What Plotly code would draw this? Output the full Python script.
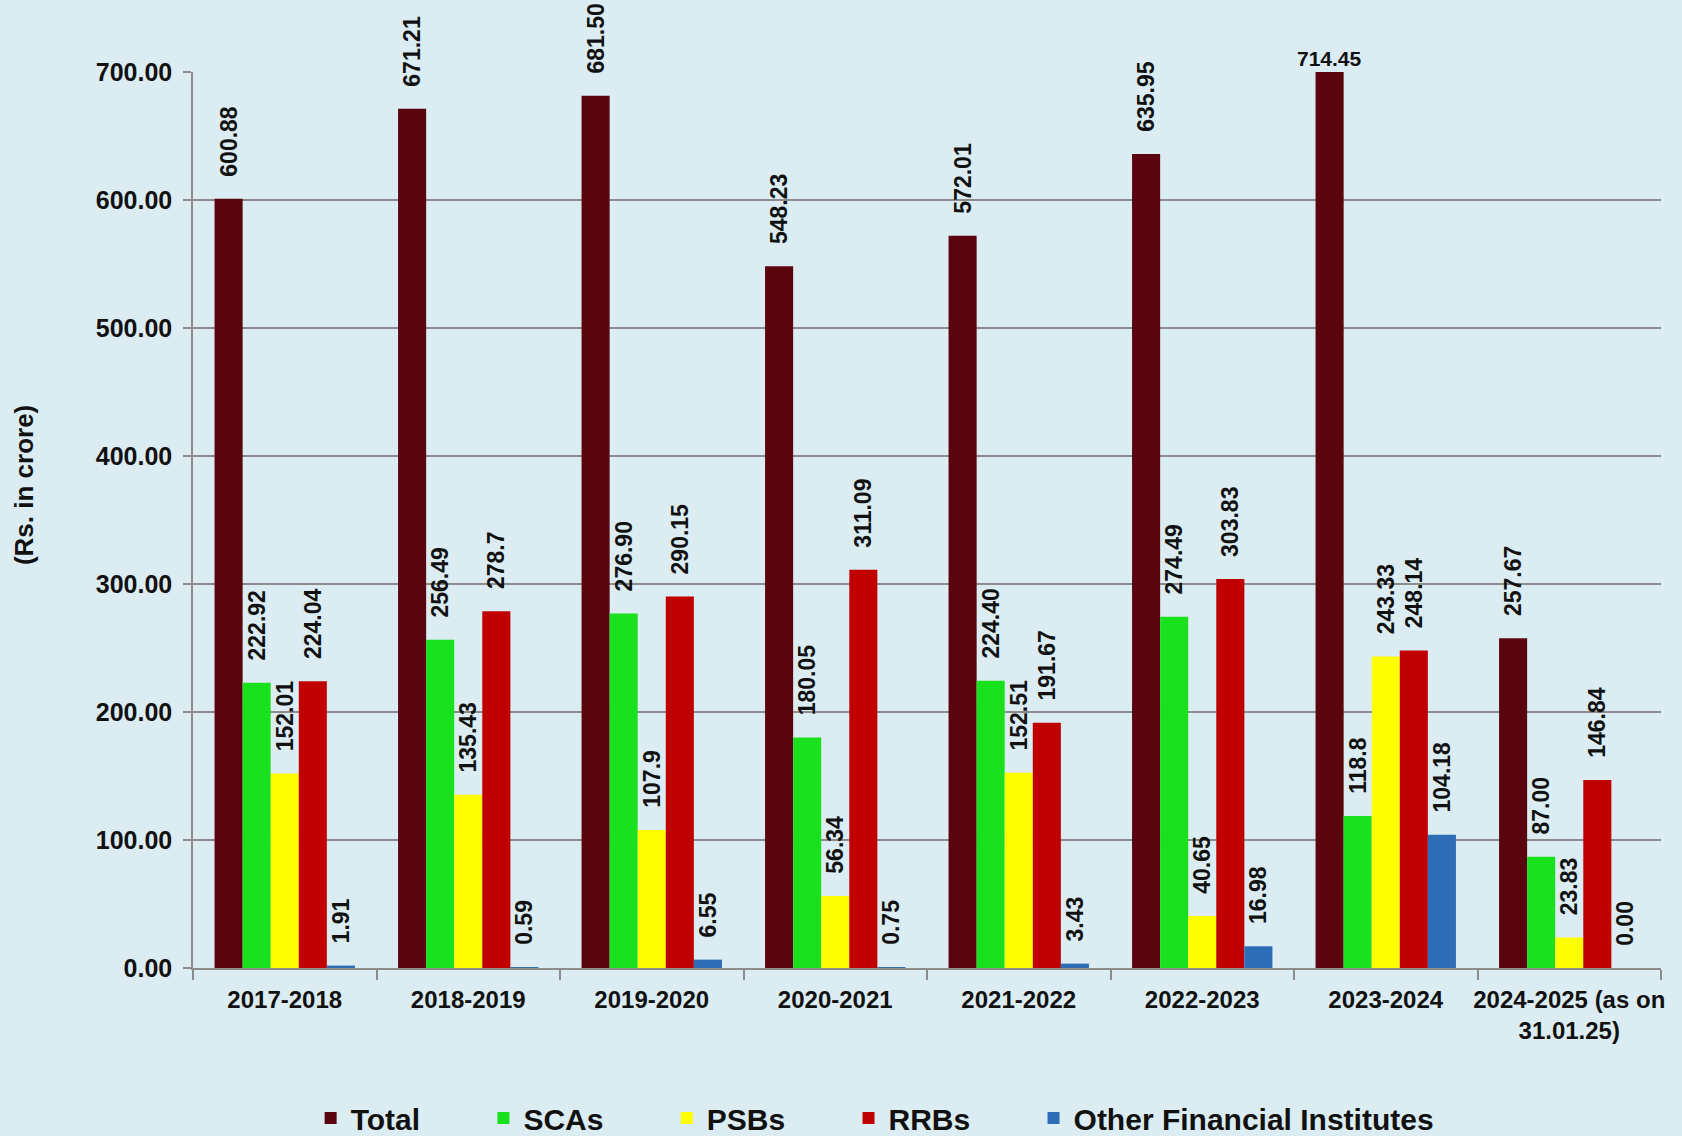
import plotly.graph_objects as go

categories = ["2017-2018", "2018-2019", "2019-2020", "2020-2021", "2021-2022",
              "2022-2023", "2023-2024", "2024-2025 (as on<br>31.01.25)"]
total = ["600.88", "671.21", "681.50", "548.23", "572.01", "635.95", "714.45", "257.67"]
scas = ["222.92", "256.49", "276.90", "180.05", "224.40", "274.49", "118.8", "87.00"]
psbs = ["152.01", "135.43", "107.9", "56.34", "152.51", "40.65", "243.33", "23.83"]
rrbs = ["224.04", "278.7", "290.15", "311.09", "191.67", "303.83", "248.14", "146.84"]
others = ["1.91", "0.59", "6.55", "0.75", "3.43", "16.98", "104.18", "0.00"]
y_ticks = [0, 100, 200, 300, 400, 500, 600, 700]
y_max = 700

series = [
    ("Total", total, "#5A040E"),
    ("SCAs", scas, "#19E11E"),
    ("PSBs", psbs, "#FFFF00"),
    ("RRBs", rrbs, "#C00000"),
    ("Other Financial Institutes", others, "#2E6DB5"),
]

BG = "#DBEDF3"
GRID = "#8C8C8C"
FONT = "Liberation Sans, Arial, sans-serif"
PAD = "\u00a0\u00a0\u00a0"
LEG_PAD = "\u00a0" * 7

fig = go.Figure()
clipped = []
for j, (name, vals, color) in enumerate(series):
    y = [float(v) for v in vals]
    txt = []
    for i, v in enumerate(vals):
        if y[i] > y_max:
            txt.append("")
            clipped.append((name, i, v))
        else:
            txt.append(PAD + v)
    legend_name = name + (LEG_PAD if j < len(series) - 1 else "")
    fig.add_trace(go.Bar(
        name=legend_name, x=categories, y=y, text=txt,
        textposition="outside", textangle=-90, constraintext="none",
        cliponaxis=False,
        textfont=dict(family=FONT, size=23, color="#111111", weight="bold"),
        marker=dict(color=color, line=dict(width=0)),
    ))

bargap = 0.235
nseries = len(series)
bw = (1 - bargap) / nseries
for name, i, v in clipped:
    k = [s[0] for s in series].index(name)
    fig.add_annotation(
        x=i + (k - (nseries - 1) / 2) * bw, y=y_max, xref="x", yref="y",
        text=v, showarrow=False, yanchor="bottom", yshift=0,
        font=dict(family=FONT, size=21, color="#111111", weight="bold"),
    )

# y-axis title placed like the original (slightly above the plot centre)
fig.add_annotation(
    x=-0.1151, y=0.539, xref="paper", yref="paper", text="(Rs. in crore)",
    textangle=-90, showarrow=False, xanchor="center", yanchor="middle",
    font=dict(family=FONT, size=26, color="#111111", weight="bold"),
)

fig.update_layout(
    width=1682, height=1136,
    paper_bgcolor=BG, plot_bgcolor=BG,
    barmode="group", bargap=bargap, bargroupgap=0,
    margin=dict(l=193, r=21, t=72, b=168),
    showlegend=True,
    legend=dict(orientation="h", xref="container", yref="container",
                x=0.52, xanchor="center", y=0.0158, yanchor="middle",
                font=dict(family=FONT, size=30, color="#111111", weight="bold"),
                bgcolor="rgba(0,0,0,0)", traceorder="normal"),
    xaxis=dict(
        type="category", showline=True, linecolor=GRID, linewidth=1.5,
        ticks="outside", ticklen=10, tickcolor=GRID, tickwidth=1.5, tickson="boundaries",
        tickangle=0, automargin=False, ticklabelstandoff=9,
        tickfont=dict(family=FONT, size=24, color="#111111", weight="bold"),
        showgrid=False,
    ),
    yaxis=dict(
        range=[0, y_max], tickvals=y_ticks, tickformat=".2f",
        showline=True, linecolor=GRID, linewidth=1.5, automargin=False,
        ticks="outside", ticklen=8, tickcolor=GRID, tickwidth=1.5,
        showgrid=True, gridcolor=GRID, gridwidth=1.5, zeroline=False,
        ticklabelstandoff=6,
        tickfont=dict(family=FONT, size=25, color="#111111", weight="bold"),
    ),
)

fig.write_html("out.html", config={"displayModeBar": False},
               post_script="document.body.style.margin='0';document.body.style.overflow='hidden';")
